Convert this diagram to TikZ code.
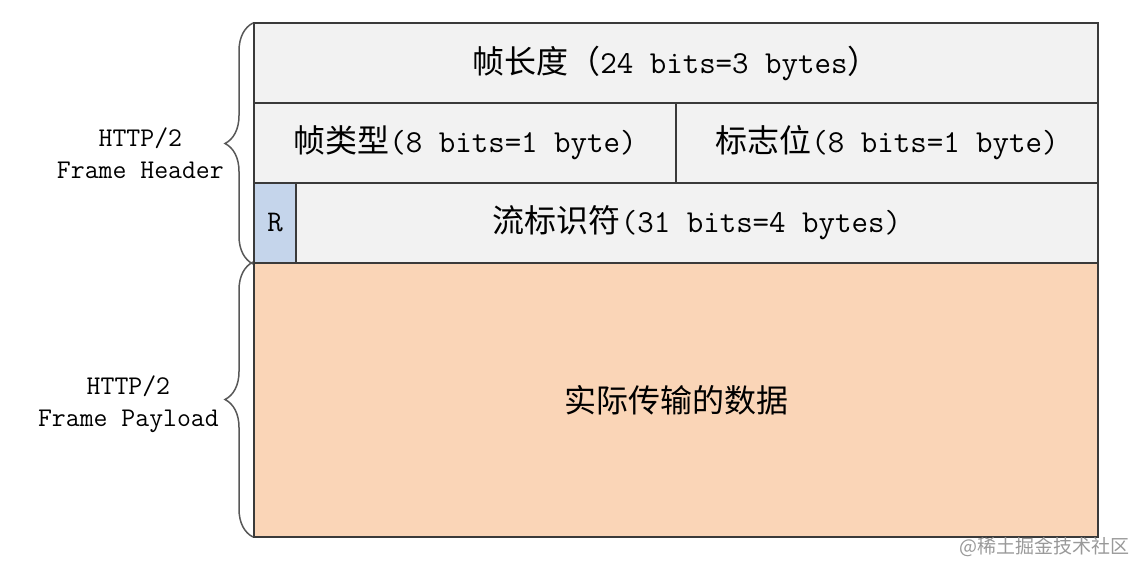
\documentclass[tikz,border=0pt]{standalone}
\usepackage{fontspec}
\newfontfamily\cjk{Noto Sans CJK SC}
\usetikzlibrary{positioning,decorations.pathreplacing}
\definecolor{cellgray}{HTML}{F2F2F2}
\definecolor{rblue}{HTML}{C5D5EB}
\definecolor{peach}{HTML}{FAD5B7}
\definecolor{edgegray}{HTML}{3A3A3A}
\begin{document}
\begin{tikzpicture}[x=1pt,y=-1pt,
	cell/.style={draw=edgegray,line width=1.6pt,fill=cellgray,minimum height=80pt,inner sep=0pt,outer sep=0pt,font=\fontsize{32}{38}\selectfont\ttfamily},
	brc/.style={draw=edgegray!85,line width=1.5pt,decorate,decoration={brace,amplitude=28pt}},
	lbl/.style={align=center,inner sep=0pt,font=\fontsize{27}{32}\selectfont\ttfamily}]
				\useasboundingbox (0,0) rectangle (1142,575);
				\node[cell,minimum width=844pt] (len) at (676,63) {{\cjk 帧长度（}24 bits=3 bytes{\cjk ）}};
				\node[cell,minimum width=422pt] (type) at (465,143) {{\cjk 帧类型}(8 bits=1 byte)};
				\node[cell,minimum width=422pt] (flag) at (887,143) {{\cjk 标志位}(8 bits=1 byte)};
				\node[cell,minimum width=42pt,fill=rblue,font=\fontsize{30}{34}\selectfont\ttfamily] (r) at (275,223) {R};
				\node[cell,minimum width=802pt] (sid) at (697,223) {{\cjk 流标识符}(31 bits=4 bytes)};
				\node[cell,minimum width=844pt,minimum height=274pt,fill=peach,font=\fontsize{32}{38}\selectfont\cjk] (data) at (676,400) {实际传输的数据};
				% braces on the left
				\draw[brc] ([xshift=-1pt,yshift=-1pt]r.south west) -- ([xshift=-1pt]len.north west);
				\draw[brc] ([xshift=-1pt]data.south west) -- ([xshift=-1pt,yshift=1pt]data.north west);
				\node[lbl,anchor=east] (hdr) at (224,153) {HTTP/2\\Frame Header};
				\node[lbl,anchor=east] (pay) at (219,404) {HTTP/2\\Frame Payload};
				\node[font=\fontsize{19}{22}\selectfont\cjk,text=gray!80,inner sep=0pt] (mark) at (1044,547) {@稀土掘金技术社区};
\end{tikzpicture}
\end{document}
